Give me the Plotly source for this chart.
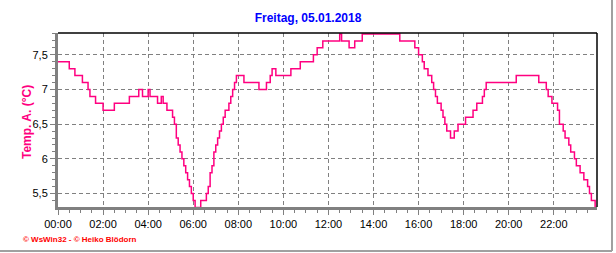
import pandas as pd
import plotly.graph_objects as go

# 5-minute readings, 05.01.2018 (12 per hour)
start_time = "2018-01-05 00:00"
interval = "5min"
temps = [
    7.4, 7.4, 7.4, 7.4, 7.4, 7.4, 7.3, 7.3, 7.3, 7.2, 7.2, 7.2,   # 00
    7.2, 7.1, 7.1, 7.1, 7.0, 6.9, 6.9, 6.9, 6.8, 6.8, 6.8, 6.8,   # 01
    6.7, 6.7, 6.7, 6.7, 6.7, 6.7, 6.8, 6.8, 6.8, 6.8, 6.8, 6.8,   # 02
    6.8, 6.8, 6.9, 6.9, 6.9, 6.9, 6.9, 7.0, 7.0, 6.9, 6.9, 6.9,   # 03
    7.0, 6.9, 6.9, 6.9, 6.9, 6.8, 6.8, 6.9, 6.8, 6.8, 6.7, 6.7,   # 04
    6.7, 6.6, 6.5, 6.3, 6.2, 6.1, 6.0, 5.9, 5.8, 5.7, 5.6, 5.5,   # 05
    5.4, 5.3, 5.3, 5.3, 5.4, 5.4, 5.4, 5.5, 5.6, 5.8, 5.9, 6.1,   # 06
    6.2, 6.3, 6.4, 6.5, 6.6, 6.7, 6.7, 6.8, 6.9, 7.0, 7.1, 7.2,   # 07
    7.2, 7.2, 7.2, 7.1, 7.1, 7.1, 7.1, 7.1, 7.1, 7.1, 7.1, 7.0,   # 08
    7.0, 7.0, 7.0, 7.1, 7.1, 7.2, 7.3, 7.3, 7.2, 7.2, 7.2, 7.2,   # 09
    7.2, 7.2, 7.2, 7.2, 7.3, 7.3, 7.3, 7.3, 7.3, 7.4, 7.4, 7.4,   # 10
    7.4, 7.4, 7.4, 7.4, 7.5, 7.5, 7.6, 7.6, 7.6, 7.7, 7.7, 7.7,   # 11
    7.7, 7.7, 7.7, 7.7, 7.7, 7.7, 7.8, 7.7, 7.7, 7.7, 7.7, 7.6,   # 12
    7.6, 7.6, 7.7, 7.7, 7.7, 7.7, 7.8, 7.8, 7.8, 7.8, 7.8, 7.8,   # 13
    7.8, 7.8, 7.8, 7.8, 7.8, 7.8, 7.8, 7.8, 7.8, 7.8, 7.8, 7.8,   # 14
    7.8, 7.8, 7.7, 7.7, 7.7, 7.7, 7.7, 7.7, 7.7, 7.7, 7.6, 7.6,   # 15
    7.5, 7.5, 7.4, 7.3, 7.3, 7.2, 7.2, 7.1, 7.0, 6.9, 6.8, 6.8,   # 16
    6.7, 6.6, 6.5, 6.4, 6.4, 6.3, 6.3, 6.4, 6.4, 6.5, 6.5, 6.5,   # 17
    6.5, 6.6, 6.6, 6.6, 6.6, 6.7, 6.7, 6.8, 6.8, 6.8, 6.9, 7.0,   # 18
    7.1, 7.1, 7.1, 7.1, 7.1, 7.1, 7.1, 7.1, 7.1, 7.1, 7.1, 7.1,   # 19
    7.1, 7.1, 7.1, 7.1, 7.2, 7.2, 7.2, 7.2, 7.2, 7.2, 7.2, 7.2,   # 20
    7.2, 7.2, 7.2, 7.2, 7.1, 7.1, 7.1, 7.1, 7.0, 6.9, 6.9, 6.8,   # 21
    6.8, 6.8, 6.7, 6.5, 6.5, 6.4, 6.3, 6.3, 6.2, 6.1, 6.1, 6.0,   # 22
    5.9, 5.9, 5.8, 5.8, 5.7, 5.7, 5.6, 5.5, 5.4, 5.4, 5.3, 5.3,   # 23
]
times = pd.date_range(start_time, periods=len(temps), freq=interval)

title_text = "Freitag, 05.01.2018"
ytitle_text = "Temp. A. (°C)"
footer_text = "© WsWin32 - © Heiko Blödorn"
y_ticks = [5.5, 6, 6.5, 7, 7.5]
y_ticklabels = ["5,5", "6", "6,5", "7", "7,5"]
x_range = ["2018-01-05 00:00", "2018-01-05 23:55"]
y_range = [5.306, 7.814]

W, H = 616, 253
L, R, T, B = 58, 19, 33, 46
pw, ph = W - L - R, H - T - B

def px_x(x):
    return (x - L) / pw

def px_y(y):
    return (H - B - y) / ph

fig = go.Figure()
fig.add_trace(go.Scatter(
    x=times, y=temps, mode="lines",
    line=dict(color="#FF0080", width=1.5, shape="hv"),
    showlegend=False, hoverinfo="skip",
))

grid = dict(showgrid=True, gridcolor="#808080", gridwidth=1, griddash="4px,3px")

fig.update_layout(
    width=W, height=H,
    margin=dict(l=L, r=R, t=T, b=B),
    paper_bgcolor="white", plot_bgcolor="white",
    separators=", ",
    font=dict(family="Liberation Sans, Arial", size=11, color="black"),
    title=dict(text="<b>" + title_text + "</b>", x=0.5, xref="container", xanchor="center",
               y=1 - 18 / H, yref="container", yanchor="middle",
               font=dict(family="Liberation Sans, Arial", size=12, color="#0000FF")),
    xaxis=dict(type="date", range=x_range, tickformat="%H:%M", dtick=7200000,
               tick0="2018-01-05 00:00", ticks="outside", ticklen=5, tickcolor="#808080",
               showline=True, linecolor="#808080", linewidth=3, zeroline=False,
               minor=dict(dtick=1800000, ticks="outside", ticklen=3, tickcolor="#808080", showgrid=False),
               **grid),
    yaxis=dict(range=y_range, tickvals=y_ticks, ticktext=y_ticklabels,
               ticks="outside", ticklen=5, tickcolor="#808080",
               showline=True, linecolor="#808080", linewidth=3, zeroline=False,
               minor=dict(dtick=0.1, tick0=0, ticks="outside", ticklen=3, tickcolor="#808080", showgrid=False),
               **grid),
    annotations=[
        dict(text="<b>" + ytitle_text + "</b>", textangle=-90, showarrow=False,
             xref="paper", yref="paper", x=px_x(27), y=px_y(122),
             xanchor="center", yanchor="middle",
             font=dict(family="Liberation Sans, Arial", size=12, color="#FF0080")),
        dict(text="<b>" + footer_text + "</b>", showarrow=False,
             xref="paper", yref="paper", x=px_x(21), y=px_y(239),
             xanchor="left", yanchor="middle",
             font=dict(family="Liberation Sans, Arial", size=8, color="#FF0000")),
    ],
    shapes=[
        dict(type="line", xref="paper", yref="paper", x0=0, x1=1, y0=1, y1=1,
             line=dict(color="black", width=1.5)),
        dict(type="line", xref="paper", yref="paper", x0=1, x1=1, y0=0, y1=1,
             line=dict(color="black", width=1.5)),
        dict(type="line", xref="paper", yref="paper", x0=px_x(0), x1=px_x(612),
             y0=px_y(251), y1=px_y(251), line=dict(color="#A0A0A0", width=2)),
        dict(type="line", xref="paper", yref="paper", x0=px_x(612), x1=px_x(612),
             y0=px_y(0), y1=px_y(251), line=dict(color="#A0A0A0", width=2)),
    ],
)

fig.write_html("out.html")
